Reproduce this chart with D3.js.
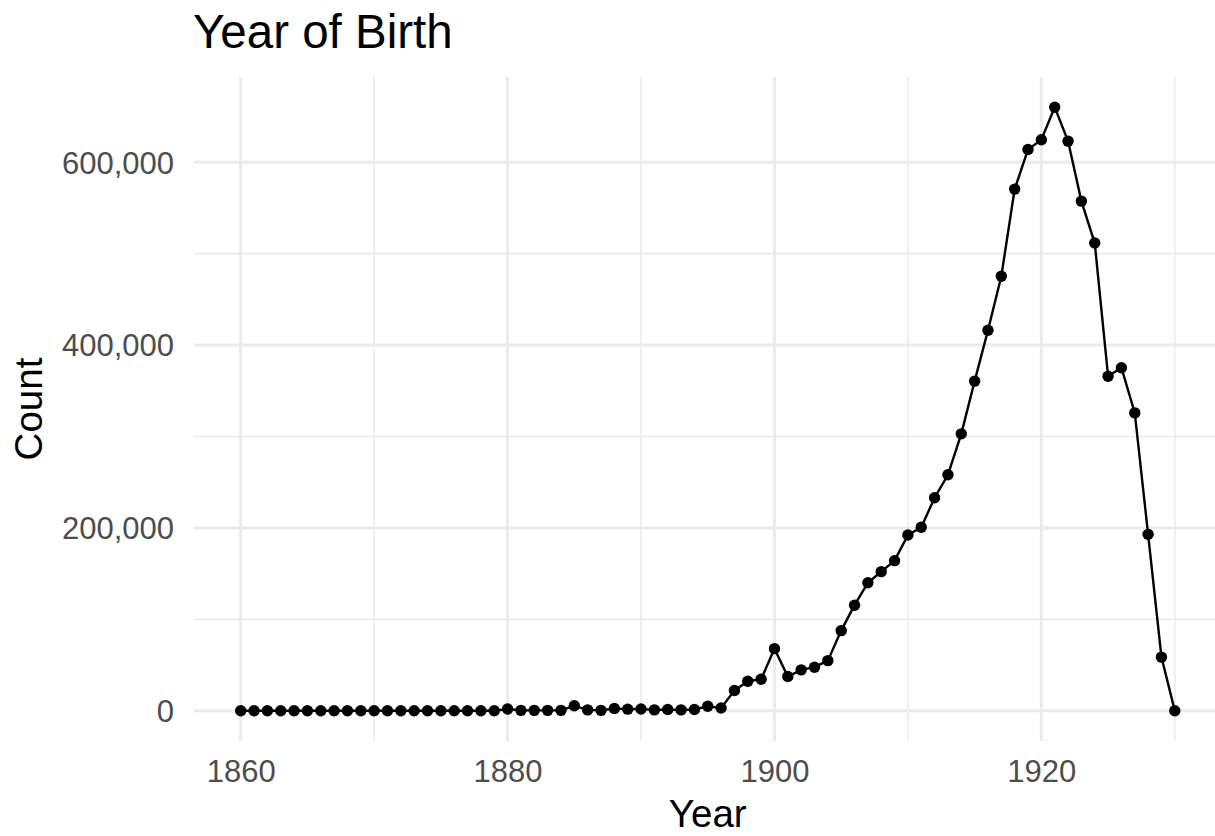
<!DOCTYPE html>
<html>
<head>
<meta charset="utf-8">
<script src="https://cdn.jsdelivr.net/npm/d3@7/dist/d3.min.js"></script>
<style>
  html, body { margin: 0; padding: 0; background: #fff; }
  svg { display: block; font-family: "Liberation Sans", Arial, Helvetica, sans-serif; }
</style>
</head>
<body>
<svg id="chart" width="1215" height="836"></svg>
<script>
const years = [1860,1861,1862,1863,1864,1865,1866,1867,1868,1869,
               1870,1871,1872,1873,1874,1875,1876,1877,1878,1879,
               1880,1881,1882,1883,1884,1885,1886,1887,1888,1889,
               1890,1891,1892,1893,1894,1895,1896,1897,1898,1899,
               1900,1901,1902,1903,1904,1905,1906,1907,1908,1909,
               1910,1911,1912,1913,1914,1915,1916,1917,1918,1919,
               1920,1921,1922,1923,1924,1925,1926,1927,1928,1929,
               1930];
const counts = [0,0,0,0,0,0,0,0,0,0,
                0,0,0,0,0,0,0,0,0,0,
                2000,500,500,500,500,5500,1000,500,2500,1800,
                2000,1000,1500,1000,1500,5000,3000,22200,32400,34600,
                68000,37500,44800,47700,54900,87700,115500,140100,152200,164200,
                192200,200700,233000,258100,302900,360500,416200,475200,570500,613900,
                624500,660100,623000,557400,511500,365900,375200,325800,193000,58700,
                0];
const xTicks = [1860, 1880, 1900, 1920];
const yTicks = [0, 200000, 400000, 600000];
const yMinor = [100000, 300000, 500000];
const xMinor = [1870, 1890, 1910, 1930];

const titleText = "Year of Birth";
const xLabel = "Year";
const yLabel = "Count";

const data = years.map((y, i) => ({ year: y, count: counts[i] }));

const svg = d3.select("#chart");
const panel = { left: 194, right: 1221.5, top: 77, bottom: 741 };

const xExt = d3.extent(years);
const xPad = (xExt[1] - xExt[0]) * 0.05;
const x = d3.scaleLinear().domain([xExt[0] - xPad, xExt[1] + xPad]).range([panel.left, panel.right]);
const yMax = d3.max(counts);
const yPad = yMax * 0.05;
const y = d3.scaleLinear().domain([-yPad, yMax + yPad]).range([panel.bottom, panel.top]);

const grid = svg.append("g");
grid.selectAll("line.ymin").data(yMinor).join("line")
  .attr("x1", panel.left).attr("x2", panel.right)
  .attr("y1", d => y(d)).attr("y2", d => y(d))
  .attr("stroke", "#ebebeb").attr("stroke-width", 1.6);
grid.selectAll("line.xmin").data(xMinor).join("line")
  .attr("y1", panel.top).attr("y2", panel.bottom)
  .attr("x1", d => x(d)).attr("x2", d => x(d))
  .attr("stroke", "#ebebeb").attr("stroke-width", 1.6);
grid.selectAll("line.ymaj").data(yTicks).join("line")
  .attr("x1", panel.left).attr("x2", panel.right)
  .attr("y1", d => y(d)).attr("y2", d => y(d))
  .attr("stroke", "#ebebeb").attr("stroke-width", 3);
grid.selectAll("line.xmaj").data(xTicks).join("line")
  .attr("y1", panel.top).attr("y2", panel.bottom)
  .attr("x1", d => x(d)).attr("x2", d => x(d))
  .attr("stroke", "#ebebeb").attr("stroke-width", 3);

const fmt = d3.format(",");
const yAxis = svg.append("g").attr("transform", `translate(${panel.left},0)`)
  .call(d3.axisLeft(y).tickValues(yTicks).tickFormat(fmt).tickSize(0).tickPadding(20));
const xAxis = svg.append("g").attr("transform", `translate(0,${panel.bottom})`)
  .call(d3.axisBottom(x).tickValues(xTicks).tickFormat(d3.format("d")).tickSize(0).tickPadding(19));
[yAxis, xAxis].forEach(a => {
  a.select(".domain").remove();
  a.selectAll("text").attr("font-size", 31).attr("fill", "#4d4d4d")
    .attr("font-family", "'Liberation Sans', Arial, sans-serif");
});
yAxis.selectAll("text").attr("dy", "0.35em");
xAxis.selectAll("text").attr("dy", "0.71em");

const line = d3.line().x(d => x(d.year)).y(d => y(d.count));
svg.append("path").datum(data)
  .attr("d", line).attr("fill", "none")
  .attr("stroke", "#000").attr("stroke-width", 2.4);

svg.append("g").selectAll("circle").data(data).join("circle")
  .attr("cx", d => x(d.year)).attr("cy", d => y(d.count))
  .attr("r", 5.7).attr("fill", "#000");

svg.append("text").attr("x", 193).attr("y", 48)
  .attr("font-size", 47.5).attr("fill", "#000").text(titleText);
svg.append("text").attr("x", (panel.left + panel.right) / 2).attr("y", 827)
  .attr("text-anchor", "middle").attr("font-size", 38.5).attr("fill", "#000").text(xLabel);
svg.append("text")
  .attr("transform", `translate(42,${(panel.top + panel.bottom) / 2}) rotate(-90)`)
  .attr("text-anchor", "middle").attr("font-size", 38.5).attr("fill", "#000").text(yLabel);
</script>
</body>
</html>
